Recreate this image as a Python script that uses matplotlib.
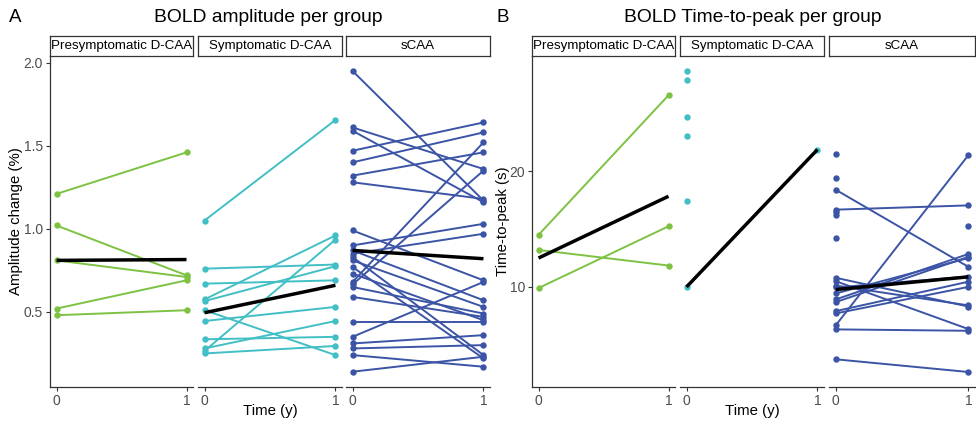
import matplotlib
matplotlib.use("Agg")
import matplotlib.pyplot as plt

plt.rcParams['font.family'] = ['Liberation Sans', 'DejaVu Sans']

W, H = 976, 425

groups = ['Presymptomatic D-CAA', 'Symptomatic D-CAA', 'sCAA']
group_colors = ['#7DC243', '#41BFC5', '#3B54A5']

# --- A: BOLD amplitude (%) --- paired values at year 0 and year 1
amp_pre_t0 = [1.21, 1.02, 0.81, 0.52, 0.48]
amp_pre_t1 = [1.46, 0.72, 0.71, 0.69, 0.51]

amp_sym_t0 = [1.05, 0.76, 0.67, 0.575, 0.565, 0.51, 0.445, 0.335, 0.28, 0.265, 0.25]
amp_sym_t1 = [1.655, 0.785, 0.69, 0.96, 0.775, 0.24, 0.53, 0.35, 0.445, 0.935, 0.295]

amp_scaa_t0 = [1.95, 1.61, 1.59, 1.47, 1.40, 1.32, 1.28, 0.99, 0.90, 0.87, 0.85,
               0.83, 0.81, 0.77, 0.73, 0.68, 0.665, 0.65, 0.59, 0.44, 0.35, 0.31,
               0.28, 0.24, 0.14]
amp_scaa_t1 = [1.17, 1.36, 1.16, 1.64, 1.58, 1.46, 1.18, 0.69, 1.03, 0.57, 0.97,
               0.24, 0.53, 0.22, 0.45, 1.52, 1.35, 0.49, 0.47, 0.44, 0.68, 0.36,
               0.30, 0.17, 0.23]

amp_mean_t0 = [0.81, 0.495, 0.87]
amp_mean_t1 = [0.815, 0.66, 0.82]

# --- B: BOLD time-to-peak (s) ---
ttp_pre_t0 = [14.5, 13.2, 9.9]
ttp_pre_t1 = [26.6, 11.85, 15.25]

ttp_sym_t0 = [10.0]
ttp_sym_t1 = [21.9]
ttp_sym_only_t0 = [28.7, 27.9, 24.7, 23.1, 17.4]

ttp_scaa_t0 = [18.42, 16.69, 6.66, 6.32, 10.5, 10.79, 10.12, 8.91, 8.68, 7.9, 7.7,
               9.43, 3.73, 9.95]
ttp_scaa_t1 = [11.74, 17.06, 21.41, 6.2, 6.35, 8.3, 8.4, 12.85, 12.6, 10.45, 10.0,
               12.5, 2.63, 10.9]
ttp_scaa_only_t0 = [21.53, 19.4, 16.49, 16.26, 14.21]
ttp_scaa_only_t1 = [15.25]

ttp_mean_t0 = [12.5, 10.0, 9.77]
ttp_mean_t1 = [17.85, 21.9, 10.87]

amp_pairs = [(amp_pre_t0, amp_pre_t1, [], []),
             (amp_sym_t0, amp_sym_t1, [], []),
             (amp_scaa_t0, amp_scaa_t1, [], [])]
ttp_pairs = [(ttp_pre_t0, ttp_pre_t1, [], []),
             (ttp_sym_t0, ttp_sym_t1, ttp_sym_only_t0, []),
             (ttp_scaa_t0, ttp_scaa_t1, ttp_scaa_only_t0, ttp_scaa_only_t1)]

MS = 4.6   # point size
LW = 1.4   # subject line width


def px_box(x0, x1, ytop, ybot):
  return [x0 / W, 1 - ybot / H, (x1 - x0) / W, (ybot - ytop) / H]


def draw_panel(fig, facets, data, means, ylim, yticks, yticklabels, ylabel,
               title, letter, title_x, letter_x, ylabel_x):
  ytop, ybot = 56, 387
  for i, (fx0, fx1) in enumerate(facets):
    ax = fig.add_axes(px_box(fx0, fx1, ytop, ybot))
    t0, t1, only0, only1 = data[i]
    col = group_colors[i]
    for a, b in zip(t0, t1):
      ax.plot([0, 1], [a, b], color=col, linewidth=LW, zorder=2,
              marker='o', markersize=MS, markeredgewidth=0)
    if only0:
      ax.plot([0] * len(only0), only0, 'o', color=col, markersize=MS,
              markeredgewidth=0, zorder=2)
    if only1:
      ax.plot([1] * len(only1), only1, 'o', color=col, markersize=MS,
              markeredgewidth=0, zorder=2)
    ax.plot([0, 1], [means[0][i], means[1][i]], color='black', linewidth=2.5,
            zorder=4, solid_capstyle='butt')

    ax.set_xlim(-0.05, 1.05)
    ax.set_ylim(*ylim)
    ax.set_xticks([0, 1])
    ax.set_xticklabels(['0', '1'])
    for s in ['top', 'right']:
      ax.spines[s].set_visible(False)
    ax.spines['bottom'].set_color('#333333')
    ax.spines['bottom'].set_linewidth(0.9)
    ax.tick_params(axis='x', colors='#333333', labelcolor='#4D4D4D',
                   labelsize=10, length=3, width=0.8, pad=2)
    if i == 0:
      ax.spines['left'].set_color('#333333')
      ax.spines['left'].set_linewidth(0.9)
      ax.set_yticks(yticks)
      ax.set_yticklabels(yticklabels)
      ax.tick_params(axis='y', colors='#333333', labelcolor='#4D4D4D',
                     labelsize=10, length=3, width=0.8, pad=2)
    else:
      ax.spines['left'].set_visible(False)
      ax.set_yticks([])

    # facet strip
    sax = fig.add_axes(px_box(fx0, fx1, 36, ytop))
    sax.set_xticks([])
    sax.set_yticks([])
    for s in sax.spines.values():
      s.set_color('#333333')
      s.set_linewidth(0.9)
    sax.text(0.5, 0.5, groups[i], ha='center', va='center', fontsize=9.6,
             transform=sax.transAxes, clip_on=True)

  fig.text(title_x / W, 1 - 18 / H, title, ha='center', va='center', fontsize=13.9)
  fig.text(letter_x / W, 1 - 18 / H, letter, ha='center', va='center', fontsize=13.5)
  mid = (facets[1][0] + facets[1][1]) / 2
  fig.text(mid / W, 1 - 411 / H, 'Time (y)', ha='center', va='center', fontsize=10.8)
  fig.text(ylabel_x / W, 1 - ((ytop + ybot) / 2) / H, ylabel, ha='center',
           va='center', rotation=90, fontsize=10.8)


fig = plt.figure(figsize=(W / 100, H / 100), dpi=100)

draw_panel(fig, [(50, 193), (198, 342), (346, 490)], amp_pairs,
           (amp_mean_t0, amp_mean_t1), (0.048, 2.04),
           [0.5, 1.0, 1.5, 2.0], ['0.5', '1.0', '1.5', '2.0'],
           'Amplitude change (%)', 'BOLD amplitude per group', 'A', 268, 15, 16)

draw_panel(fig, [(532, 675), (680, 824), (829, 975)], ttp_pairs,
           (ttp_mean_t0, ttp_mean_t1), (1.33, 30.0),
           [10, 20], ['10', '20'],
           'Time-to-peak (s)', 'BOLD Time-to-peak per group', 'B', 753, 503, 503)

fig.savefig('out.png', dpi=100)
